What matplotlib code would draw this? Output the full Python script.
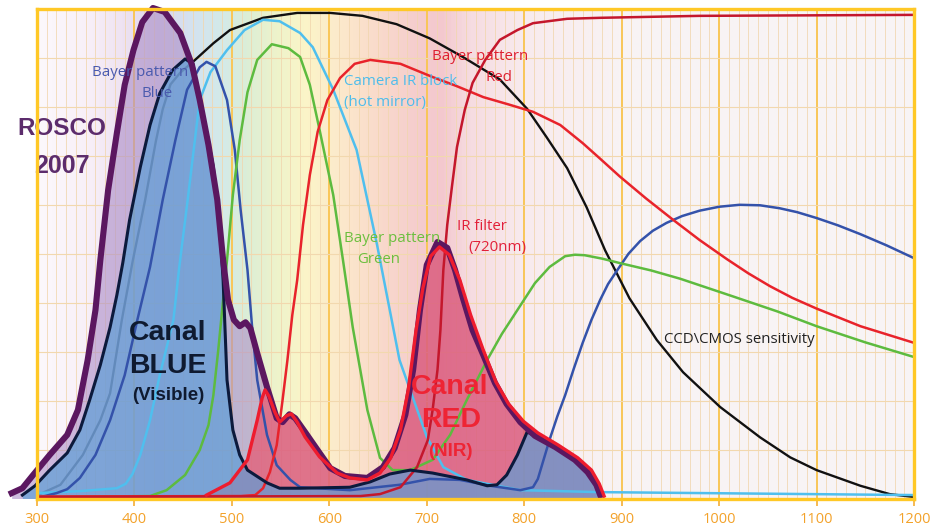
import numpy as np
import matplotlib
matplotlib.use("Agg")
import matplotlib.pyplot as plt
from matplotlib.colors import LinearSegmentedColormap

# ---------------------------------------------------------------- data
x_ticks = [300, 400, 500, 600, 700, 800, 900, 1000, 1100, 1200]
x_labels = [str(v) for v in x_ticks]

# CCD / CMOS sensor sensitivity (relative %)
ccd_nm = [303, 324, 347, 365, 375, 387, 398, 411, 422, 429, 437, 447, 460, 481, 498,
          532, 567, 601, 634, 669, 703, 737, 775, 803, 823, 844, 864, 883, 908, 936,
          963, 1001, 1042, 1073, 1100, 1145, 1175, 1200]
ccd_val = [0.9, 2.8, 8.9, 16.0, 21.5, 36.4, 48.3, 61.0, 73.0, 79.5, 84.6, 87.0, 89.2, 93.0, 95.7,
           98.2, 99.2, 99.2, 98.6, 96.9, 94.0, 90.2, 85.6, 79.6, 73.8, 67.5, 59.5, 50.7, 40.9, 32.4,
           25.8, 18.7, 12.5, 8.4, 5.8, 2.6, 0.9, 0.3]

# Camera IR block (hot mirror)
hot_nm = [300, 344, 382, 391, 398, 406, 416, 426, 440, 446, 454, 467, 478, 495, 513,
          532, 549, 570, 583, 604, 628, 649, 672, 700, 717, 741, 796, 878, 1200]
hot_val = [1.1, 1.5, 2.1, 3.0, 5.0, 8.9, 16.0, 25.2, 36.5, 47.3, 60.0, 81.4, 87.1, 91.6, 95.7,
           97.8, 97.5, 95.1, 92.2, 83.5, 71.2, 51.8, 28.3, 12.6, 6.4, 3.8, 1.7, 1.3, 0.7]

# Bayer pattern - blue
bb_nm = [300, 308, 320, 331, 344, 360, 375, 390, 403, 416, 429, 442, 454, 467, 474, 483,
         495, 503, 509, 516, 521, 526, 536, 546, 560, 570, 621, 672, 703, 734, 765,
         796, 809, 814, 820, 826, 834, 842, 851, 860, 869, 878, 886, 895, 907, 919,
         932, 946, 962, 980, 1000, 1021, 1042, 1062, 1080, 1100, 1122, 1145, 1172, 1200]
bb_val = [0.3, 0.5, 1.1, 1.9, 4.2, 8.9, 16.0, 25.2, 36.5, 47.3, 61.0, 73.2, 83.5, 88.1, 89.2, 88.3,
          81.4, 71.2, 58.9, 46.7, 34.4, 24.2, 13.0, 6.8, 3.8, 2.3, 1.7, 2.8, 4.0, 3.8, 2.6,
          1.7, 2.3, 4.0, 8.0, 12.0, 16.8, 21.1, 26.6, 31.8, 36.5, 40.6, 43.8, 46.5, 50.0, 52.6,
          54.7, 56.3, 57.7, 58.8, 59.6, 60.0, 59.9, 59.3, 58.5, 57.3, 55.8, 54.0, 51.7, 49.1]

# Bayer pattern - green
bg_nm = [300, 416, 433, 452, 467, 476, 481, 486, 491, 495, 501, 508, 516, 526, 541, 558,
         570, 580, 590, 604, 614, 624, 639, 652, 665, 683, 706, 724, 741, 762, 777, 793,
         811, 826, 842, 852, 862, 880, 898, 930, 960, 1014, 1060, 1100, 1150, 1200]
bg_val = [0.3, 0.5, 1.7, 4.8, 9.9, 15.0, 21.1, 30.3, 40.6, 48.7, 62.0, 73.2, 83.0, 89.6, 92.8, 92.0,
          90.2, 84.5, 75.3, 62.0, 48.7, 35.0, 18.1, 8.3, 5.8, 5.8, 7.9, 13.0, 20.1, 28.3, 33.6, 38.5,
          44.0, 47.3, 49.5, 49.8, 49.7, 49.0, 48.1, 46.6, 44.9, 41.3, 38.2, 35.2, 31.9, 28.9]

# Bayer pattern - red
br_nm = [300, 509, 524, 532, 539, 546, 552, 557, 562, 567, 573, 580, 588, 598, 611, 626,
         642, 673, 706, 730, 758, 784, 809, 837, 860, 878, 898, 925, 953, 980, 1008,
         1030, 1052, 1075, 1100, 1145, 1200]
br_val = [0.4, 0.5, 0.7, 2.1, 5.4, 10.9, 20.1, 28.3, 37.5, 44.6, 55.9, 66.1, 74.9, 81.4, 85.9, 88.8,
          89.6, 88.8, 86.1, 84.3, 82.0, 80.5, 79.0, 76.3, 72.6, 69.4, 65.8, 61.3, 56.9, 52.8, 48.9,
          46.0, 43.4, 41.0, 38.8, 35.2, 31.8]

# IR filter (720 nm)
ir_nm = [300, 632, 652, 673, 690, 701, 706, 711, 714, 717, 721, 726, 731, 739, 747, 760,
         775, 793, 809, 844, 878, 980, 1200]
ir_val = [0.3, 0.5, 0.9, 2.3, 6.4, 11.9, 18.1, 26.3, 34.4, 46.7, 55.9, 64.0, 71.8, 79.4, 84.9, 89.6,
          93.7, 95.7, 97.1, 98.0, 98.2, 98.6, 98.8]

# ROSCO 2007 filter
rosco_nm = [274, 285, 296, 313, 331, 342, 352, 360, 365, 373, 382, 390, 399, 408, 419, 431,
            447, 459, 467, 476, 485, 491, 496, 502, 508, 514, 519, 526, 536, 546, 552, 559,
            565, 575, 590, 601, 616, 639, 655, 667, 678, 686, 693, 700, 711, 721, 729, 737,
            747, 758, 770, 782, 796, 811, 832, 852, 865, 874, 878]
rosco_val = [1.1, 2.1, 4.8, 8.9, 13.0, 18.1, 28.3, 38.5, 48.7, 63.0, 74.7, 84.5, 91.6, 97.3, 100.2, 99.4,
             95.1, 88.6, 81.4, 72.2, 61.0, 48.7, 40.6, 36.5, 35.2, 36.0, 34.8, 29.7, 22.8, 16.4, 15.6, 17.2,
             16.4, 13.6, 9.3, 6.2, 4.6, 4.2, 6.4, 10.3, 17.1, 26.3, 38.5, 47.7, 52.4, 51.2, 46.7, 41.0,
             34.4, 29.3, 23.6, 19.3, 15.6, 12.8, 10.5, 7.9, 5.4, 2.8, 0.7]

# Canal BLUE (visible)
cb_nm = [285, 298, 313, 331, 344, 354, 365, 375, 382, 388, 395, 406, 416, 426, 439, 452,
         460, 467, 475, 481, 488, 491, 495, 501, 508, 516, 536, 549, 570, 621, 642,
         662, 683, 706, 741, 762, 772, 782, 793, 803, 811, 832, 852, 865, 874, 878]
cb_val = [0.7, 2.6, 5.8, 9.3, 14.0, 20.1, 27.3, 35.0, 41.6, 48.1, 56.9, 67.7, 76.3, 82.8, 87.5, 89.8,
          88.8, 81.4, 74.0, 67.7, 54.2, 44.6, 24.2, 14.0, 8.9, 5.8, 3.2, 2.1, 2.1, 2.3, 3.4,
          5.0, 5.8, 5.2, 3.8, 2.6, 2.8, 4.8, 8.9, 13.6, 12.8, 10.5, 7.9, 5.4, 2.8, 0.7]

# Canal RED (NIR)
cr_nm = [474, 498, 516, 526, 531, 534, 538, 544, 549, 556, 561, 567, 575, 590, 608, 621,
         639, 652, 663, 673, 681, 689, 696, 704, 713, 723, 734, 745, 758, 771, 784,
         799, 814, 835, 855, 869, 877, 882]
cr_val = [0.7, 3.2, 7.9, 16.0, 20.5, 22.2, 20.9, 17.7, 15.6, 16.9, 17.3, 15.6, 12.6, 8.5, 5.2, 4.2,
          3.8, 5.2, 8.3, 14.0, 22.2, 34.4, 43.0, 49.5, 51.4, 49.8, 44.6, 37.5, 30.3, 23.8, 19.3,
          15.8, 13.4, 10.9, 8.3, 5.8, 3.0, 0.5]

# ------------------------------------------------------------- figure
fig = plt.figure(figsize=(9.4, 5.31), dpi=100)
ax = fig.add_axes([37 / 940, 32.5 / 531, 877 / 940, 489.5 / 531])
ax.set_xlim(300, 1200)
ax.set_ylim(0, 100)

# spectral background wash
stops = [(300, "#FCF8FC"), (350, "#F8F0F8"), (385, "#EFE3F2"), (425, "#DCD6EC"),
         (460, "#D3E3F0"), (490, "#D4EAE8"), (515, "#DCEED6"), (545, "#EEF3CB"),
         (575, "#FBF5C8"), (610, "#FCE9CC"), (650, "#F9DACB"), (690, "#F5CDCE"),
         (715, "#F3C8CE"), (745, "#F6DCE1"), (800, "#F8EBEE"), (900, "#F8F3F4"),
         (1200, "#F8F5F6")]
cmap = LinearSegmentedColormap.from_list(
    "spectrum", [((w - 300) / 900, c) for w, c in stops])
ax.imshow(np.linspace(0, 1, 900)[None, :], cmap=cmap, aspect="auto",
          extent=[300, 1200, 0, 100], zorder=0, interpolation="bilinear")

# grid
ax.set_xticks(x_ticks)
ax.set_xticklabels(x_labels)
ax.set_xticks(np.arange(300, 1201, 10), minor=True)
ax.set_yticks(np.arange(0, 101, 10))
ax.set_yticklabels([])
ax.set_axisbelow(True)
ax.grid(which="major", axis="x", color="#F9C658", lw=1.4, zorder=0.5)
ax.grid(which="minor", axis="x", color="#F1D6AE", lw=0.7, alpha=0.8, zorder=0.5)
ax.grid(which="major", axis="y", color="#F2D8AE", lw=0.8, zorder=0.5)
ax.tick_params(axis="y", length=0)
ax.tick_params(axis="x", which="minor", length=0)
ax.tick_params(axis="x", which="major", direction="out", length=5, width=1.3,
               color="#F6B444", labelcolor="#F3A22A", labelsize=10.5, pad=5)
for lab in ax.get_xticklabels():
    lab.set_family("Open Sans")
for sp in ax.spines.values():
    sp.set_color("#FFC826")
    sp.set_linewidth(2.4)
    sp.set_zorder(9)

# sensor sensitivity sits behind the channel fills
ax.plot(ccd_nm, ccd_val, color="#111111", lw=1.7, zorder=2, solid_joinstyle="round")

# channel fills
ax.fill_between(rosco_nm, rosco_val, 0, color="#AD8FC8", alpha=0.6, lw=0,
                zorder=3, clip_on=False)
ax.fill_between(cr_nm, cr_val, 0, color="#EC4A64", alpha=0.62, lw=0, zorder=3.2)
ax.fill_between(cb_nm, cb_val, 0, color="#5E9ED6", alpha=0.7, lw=0, zorder=3.4,
                clip_on=False)

# filter / Bayer curves
line_kw = dict(lw=1.8, zorder=4, solid_joinstyle="round")
ax.plot(hot_nm, hot_val, color="#4FBFEE", **line_kw)
ax.plot(bb_nm, bb_val, color="#3452AA", **line_kw)
ax.plot(bg_nm, bg_val, color="#5DBB3F", **line_kw)
ax.plot(br_nm, br_val, color="#E8232B", **line_kw)
ax.plot(ir_nm, ir_val, color="#C4172C", **line_kw)

# channel outlines
ax.plot(cb_nm, cb_val, color="#0C1A3C", lw=2.2, zorder=5, clip_on=False,
        solid_joinstyle="round")
ax.plot(rosco_nm, rosco_val, color="#5B1760", lw=4.4, zorder=6, clip_on=False,
        solid_joinstyle="round")
ax.plot(cr_nm, cr_val, color="#EE1C2E", lw=2.4, zorder=7, clip_on=False,
        solid_joinstyle="round")

# labels
lab_kw = dict(ha="center", va="center", fontsize=10.8, family="Open Sans", zorder=8)
ax.text(405.7, 87.1, "Bayer pattern", color="#4A5AAE", **lab_kw)
ax.text(423.1, 82.8, "Blue", color="#4A5AAE", **lab_kw)
ax.text(615, 85.1, "Camera IR block", color="#4DBDEB",
        **{**lab_kw, "ha": "left"})
ax.text(615, 80.8, "(hot mirror)", color="#4DBDEB", **{**lab_kw, "ha": "left"})
ax.text(754.6, 90.2, "Bayer pattern", color="#DE2030", **lab_kw)
ax.text(774.1, 86.1, "Red", color="#DE2030", **lab_kw)
ax.text(664.3, 53.2, "Bayer pattern", color="#6CBF3E", **lab_kw)
ax.text(650.4, 48.9, "Green", color="#6CBF3E", **lab_kw)
ax.text(756.7, 55.5, "IR filter", color="#E2203A", **lab_kw)
ax.text(772.1, 51.2, "(720nm)", color="#E2203A", **lab_kw)
ax.text(1020.4, 32.4, "CCD\\CMOS sensitivity", color="#222222", **lab_kw)

big_kw = dict(ha="center", va="center", family="Liberation Sans",
              fontweight="bold", zorder=8)
ax.text(325.7, 75.5, "ROSCO", color="#5C2C6C", fontsize=17.5, **big_kw)
ax.text(325.7, 67.9, "2007", color="#5C2C6C", fontsize=18, **big_kw)
ax.text(434.4, 33.8, "Canal", color="#0F1A30", fontsize=20.5, **big_kw)
ax.text(434.4, 27.1, "BLUE", color="#0F1A30", fontsize=20.5, **big_kw)
ax.text(434.4, 21.1, "(Visible)", color="#0F1A30", fontsize=13.5, **big_kw)
ax.text(723.8, 22.8, "Canal", color="#EE2434", fontsize=20.5, **big_kw)
ax.text(724.5, 16.0, "RED", color="#EE2434", fontsize=20.5, **big_kw)
ax.text(723.8, 9.5, "(NIR)", color="#EE2434", fontsize=13.5, **big_kw)

fig.savefig("out.png", dpi=100)
